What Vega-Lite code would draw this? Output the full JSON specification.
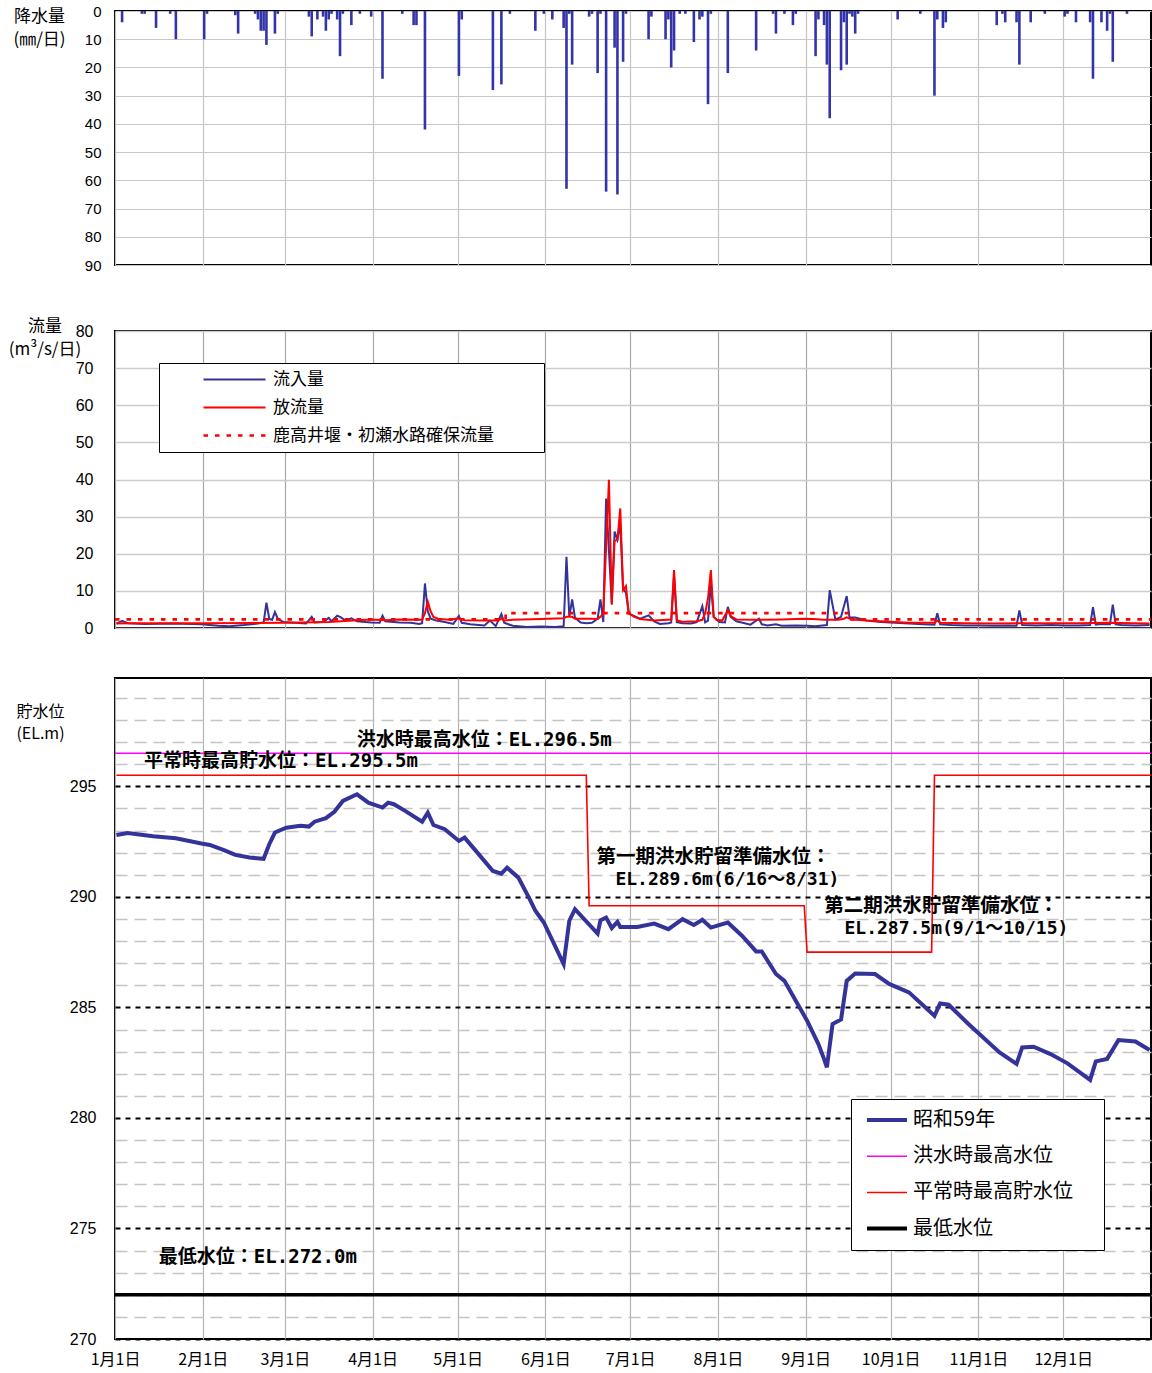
{
  "$schema": "https://vega.github.io/schema/vega-lite/v6.json",
  "background": "white",
  "autosize": {"type": "pad"},
  "padding": {"left": 7, "top": 3, "right": 1, "bottom": 2},
  "config": {
    "view": {"stroke": "black", "strokeWidth": 2},
    "font": "Noto Sans CJK JP",
    "axis": {"labelColor": "black", "titleColor": "black", "domain": false, "ticks": false, "labelFont": "Liberation Sans", "labelOverlap": false}
  },
  "datasets": {
    "rain": [
      {"d":"1984-01-03","v":4},{"d":"1984-01-10","v":1},{"d":"1984-01-11","v":1},{"d":"1984-01-15","v":6},{"d":"1984-01-20","v":1},{"d":"1984-01-22","v":10},
      {"d":"1984-02-01","v":10},{"d":"1984-02-02","v":1},{"d":"1984-02-12","v":1.5},{"d":"1984-02-13","v":8},{"d":"1984-02-19","v":1},{"d":"1984-02-20","v":3},{"d":"1984-02-21","v":7},{"d":"1984-02-22","v":7},{"d":"1984-02-23","v":12},{"d":"1984-02-26","v":8},{"d":"1984-02-27","v":1},
      {"d":"1984-03-09","v":2},{"d":"1984-03-10","v":9},{"d":"1984-03-12","v":3},{"d":"1984-03-14","v":2},{"d":"1984-03-15","v":7},{"d":"1984-03-16","v":3},{"d":"1984-03-17","v":1},{"d":"1984-03-19","v":3},{"d":"1984-03-20","v":16},{"d":"1984-03-21","v":1},{"d":"1984-03-24","v":5},{"d":"1984-03-27","v":1},{"d":"1984-03-31","v":2},
      {"d":"1984-04-04","v":24},{"d":"1984-04-11","v":1},{"d":"1984-04-15","v":5},{"d":"1984-04-16","v":5},{"d":"1984-04-19","v":42},
      {"d":"1984-05-01","v":23},{"d":"1984-05-02","v":3},{"d":"1984-05-13","v":28},{"d":"1984-05-16","v":26},{"d":"1984-05-19","v":1},{"d":"1984-05-28","v":7},{"d":"1984-05-31","v":1},
      {"d":"1984-06-03","v":3},{"d":"1984-06-07","v":6},{"d":"1984-06-08","v":63},{"d":"1984-06-09","v":1},{"d":"1984-06-10","v":19},{"d":"1984-06-16","v":2},{"d":"1984-06-17","v":1},{"d":"1984-06-19","v":22},{"d":"1984-06-20","v":1},{"d":"1984-06-22","v":64},{"d":"1984-06-25","v":13},{"d":"1984-06-26","v":65},{"d":"1984-06-28","v":18},{"d":"1984-06-29","v":1},
      {"d":"1984-07-07","v":10},{"d":"1984-07-08","v":2},{"d":"1984-07-13","v":10},{"d":"1984-07-14","v":3},{"d":"1984-07-15","v":20},{"d":"1984-07-16","v":14},{"d":"1984-07-18","v":1},{"d":"1984-07-20","v":1},{"d":"1984-07-23","v":11},{"d":"1984-07-25","v":3},{"d":"1984-07-26","v":2},{"d":"1984-07-28","v":33},{"d":"1984-07-29","v":1},
      {"d":"1984-08-04","v":22},{"d":"1984-08-14","v":14},{"d":"1984-08-20","v":1},{"d":"1984-08-21","v":8},{"d":"1984-08-24","v":1},{"d":"1984-08-27","v":5},{"d":"1984-08-28","v":1},
      {"d":"1984-09-04","v":16},{"d":"1984-09-05","v":3},{"d":"1984-09-07","v":5},{"d":"1984-09-08","v":19},{"d":"1984-09-09","v":38},{"d":"1984-09-13","v":21},{"d":"1984-09-14","v":4},{"d":"1984-09-15","v":19},{"d":"1984-09-16","v":1},{"d":"1984-09-17","v":2},{"d":"1984-09-18","v":8},{"d":"1984-09-19","v":1},
      {"d":"1984-10-03","v":3},{"d":"1984-10-11","v":1},{"d":"1984-10-16","v":30},{"d":"1984-10-17","v":3},{"d":"1984-10-19","v":6},{"d":"1984-10-20","v":4},
      {"d":"1984-11-07","v":5},{"d":"1984-11-09","v":1},{"d":"1984-11-10","v":4},{"d":"1984-11-14","v":4},{"d":"1984-11-15","v":19},{"d":"1984-11-19","v":4},{"d":"1984-11-24","v":1},
      {"d":"1984-12-01","v":2},{"d":"1984-12-02","v":1},{"d":"1984-12-05","v":4},{"d":"1984-12-10","v":4},{"d":"1984-12-11","v":24},{"d":"1984-12-14","v":4},{"d":"1984-12-16","v":7},{"d":"1984-12-17","v":1},{"d":"1984-12-18","v":18},{"d":"1984-12-23","v":1}
    ],
    "inflow": [
      {"d":"1984-01-01","v":1.2},{"d":"1984-01-03","v":1.9},{"d":"1984-01-05","v":1.3},{"d":"1984-01-11","v":1.1},{"d":"1984-01-21","v":1.2},{"d":"1984-01-31","v":1.0},
      {"d":"1984-02-06","v":0.6},{"d":"1984-02-10","v":0.5},{"d":"1984-02-15","v":0.8},{"d":"1984-02-20","v":1.2},{"d":"1984-02-22","v":1.5},{"d":"1984-02-23","v":6.8},{"d":"1984-02-24","v":2.5},{"d":"1984-02-25","v":2.2},{"d":"1984-02-26","v":4.3},{"d":"1984-02-27","v":2.5},{"d":"1984-02-29","v":1.6},
      {"d":"1984-03-04","v":1.4},{"d":"1984-03-08","v":1.2},{"d":"1984-03-10","v":3.0},{"d":"1984-03-11","v":1.5},{"d":"1984-03-14","v":1.6},{"d":"1984-03-16","v":2.7},{"d":"1984-03-17","v":1.8},{"d":"1984-03-19","v":3.3},{"d":"1984-03-20","v":3.0},{"d":"1984-03-22","v":2.0},{"d":"1984-03-24","v":2.6},{"d":"1984-03-26","v":1.8},{"d":"1984-03-31","v":1.5},
      {"d":"1984-04-03","v":1.4},{"d":"1984-04-04","v":3.3},{"d":"1984-04-05","v":1.8},{"d":"1984-04-10","v":1.5},{"d":"1984-04-14","v":1.4},{"d":"1984-04-17","v":1.1},{"d":"1984-04-18","v":1.3},{"d":"1984-04-19","v":12.0},{"d":"1984-04-20","v":4.5},{"d":"1984-04-21","v":2.5},{"d":"1984-04-23","v":2.0},{"d":"1984-04-26","v":1.6},{"d":"1984-04-29","v":1.1},
      {"d":"1984-05-01","v":3.2},{"d":"1984-05-02","v":1.4},{"d":"1984-05-05","v":1.0},{"d":"1984-05-10","v":0.7},{"d":"1984-05-12","v":2.0},{"d":"1984-05-14","v":0.5},{"d":"1984-05-16","v":3.8},{"d":"1984-05-17","v":1.4},{"d":"1984-05-20","v":0.6},{"d":"1984-05-25","v":0.3},{"d":"1984-05-30","v":0.4},
      {"d":"1984-06-04","v":0.3},{"d":"1984-06-07","v":0.5},{"d":"1984-06-08","v":19.2},{"d":"1984-06-09","v":3.0},{"d":"1984-06-10","v":7.7},{"d":"1984-06-11","v":2.8},{"d":"1984-06-13","v":1.5},{"d":"1984-06-15","v":1.3},{"d":"1984-06-17","v":1.4},{"d":"1984-06-19","v":2.5},{"d":"1984-06-20","v":7.7},{"d":"1984-06-21","v":1.6},{"d":"1984-06-22","v":34.9},{"d":"1984-06-24","v":6.6},{"d":"1984-06-25","v":26.0},{"d":"1984-06-26","v":23.8},{"d":"1984-06-27","v":28.0},{"d":"1984-06-28","v":10.5},{"d":"1984-06-29","v":9.5},{"d":"1984-06-30","v":4.0},
      {"d":"1984-07-01","v":3.5},{"d":"1984-07-04","v":2.5},{"d":"1984-07-07","v":3.4},{"d":"1984-07-09","v":1.8},{"d":"1984-07-11","v":1.1},{"d":"1984-07-14","v":1.3},{"d":"1984-07-15","v":1.5},{"d":"1984-07-16","v":14.0},{"d":"1984-07-17","v":1.6},{"d":"1984-07-19","v":1.3},{"d":"1984-07-22","v":1.2},{"d":"1984-07-24","v":1.6},{"d":"1984-07-26","v":5.9},{"d":"1984-07-27","v":1.5},{"d":"1984-07-28","v":2.0},{"d":"1984-07-29","v":12.0},{"d":"1984-07-30","v":3.0},
      {"d":"1984-08-01","v":1.6},{"d":"1984-08-03","v":1.5},{"d":"1984-08-04","v":5.7},{"d":"1984-08-05","v":3.0},{"d":"1984-08-07","v":1.8},{"d":"1984-08-10","v":1.3},{"d":"1984-08-12","v":0.9},{"d":"1984-08-15","v":2.5},{"d":"1984-08-16","v":1.0},{"d":"1984-08-18","v":0.7},{"d":"1984-08-21","v":1.0},{"d":"1984-08-23","v":0.6},{"d":"1984-08-28","v":0.7},
      {"d":"1984-09-01","v":0.6},{"d":"1984-09-04","v":0.5},{"d":"1984-09-08","v":0.8},{"d":"1984-09-09","v":10.2},{"d":"1984-09-11","v":2.3},{"d":"1984-09-13","v":3.0},{"d":"1984-09-15","v":8.6},{"d":"1984-09-16","v":2.8},{"d":"1984-09-18","v":2.8},{"d":"1984-09-22","v":2.0},{"d":"1984-09-27","v":1.6},
      {"d":"1984-10-02","v":1.4},{"d":"1984-10-07","v":1.2},{"d":"1984-10-12","v":1.0},{"d":"1984-10-16","v":0.9},{"d":"1984-10-17","v":4.0},{"d":"1984-10-18","v":1.0},{"d":"1984-10-22","v":0.8},{"d":"1984-10-27","v":0.7},
      {"d":"1984-11-01","v":0.7},{"d":"1984-11-06","v":0.6},{"d":"1984-11-11","v":0.7},{"d":"1984-11-14","v":0.6},{"d":"1984-11-15","v":4.7},{"d":"1984-11-16","v":0.8},{"d":"1984-11-21","v":0.7},{"d":"1984-11-26","v":0.8},
      {"d":"1984-12-01","v":0.7},{"d":"1984-12-06","v":0.7},{"d":"1984-12-10","v":0.8},{"d":"1984-12-11","v":5.6},{"d":"1984-12-12","v":0.9},{"d":"1984-12-14","v":1.1},{"d":"1984-12-17","v":1.0},{"d":"1984-12-18","v":6.3},{"d":"1984-12-19","v":1.0},{"d":"1984-12-21","v":0.8},{"d":"1984-12-26","v":0.7},{"d":"1984-12-31","v":0.8}
    ],
    "outflow": [
      {"d":"1984-01-01","v":1.2},{"d":"1984-01-06","v":1.3},{"d":"1984-01-31","v":1.3},{"d":"1984-03-01","v":1.4},{"d":"1984-03-16","v":1.6},{"d":"1984-03-26","v":2.1},{"d":"1984-03-31","v":2.3},
      {"d":"1984-04-05","v":2.1},{"d":"1984-04-10","v":2.3},{"d":"1984-04-18","v":2.2},{"d":"1984-04-19","v":4.0},{"d":"1984-04-20","v":7.1},{"d":"1984-04-21","v":4.5},{"d":"1984-04-22","v":3.0},{"d":"1984-04-24","v":2.4},{"d":"1984-04-28","v":2.2},
      {"d":"1984-05-01","v":2.6},{"d":"1984-05-03","v":2.1},{"d":"1984-05-10","v":2.0},{"d":"1984-05-15","v":2.0},{"d":"1984-05-16","v":2.6},{"d":"1984-05-17","v":2.0},{"d":"1984-05-20","v":2.2},{"d":"1984-05-30","v":2.4},
      {"d":"1984-06-07","v":2.6},{"d":"1984-06-08","v":3.0},{"d":"1984-06-10","v":3.0},{"d":"1984-06-11","v":2.5},{"d":"1984-06-17","v":2.5},{"d":"1984-06-19","v":2.4},{"d":"1984-06-20","v":3.0},{"d":"1984-06-21","v":4.0},{"d":"1984-06-23","v":39.9},{"d":"1984-06-24","v":6.3},{"d":"1984-06-25","v":23.5},{"d":"1984-06-26","v":23.7},{"d":"1984-06-27","v":32.2},{"d":"1984-06-28","v":10.2},{"d":"1984-06-29","v":11.3},{"d":"1984-06-30","v":4.0},
      {"d":"1984-07-02","v":3.0},{"d":"1984-07-04","v":2.4},{"d":"1984-07-09","v":2.0},{"d":"1984-07-15","v":2.3},{"d":"1984-07-16","v":15.6},{"d":"1984-07-17","v":2.0},{"d":"1984-07-19","v":1.7},{"d":"1984-07-24","v":1.8},{"d":"1984-07-26","v":2.2},{"d":"1984-07-27","v":4.0},{"d":"1984-07-28","v":8.0},{"d":"1984-07-29","v":15.6},{"d":"1984-07-30","v":3.0},{"d":"1984-07-31","v":2.2},
      {"d":"1984-08-02","v":2.0},{"d":"1984-08-04","v":4.8},{"d":"1984-08-05","v":3.2},{"d":"1984-08-07","v":2.3},{"d":"1984-08-13","v":2.2},{"d":"1984-08-23","v":2.3},{"d":"1984-08-31","v":2.5},
      {"d":"1984-09-03","v":2.4},{"d":"1984-09-07","v":2.2},{"d":"1984-09-12","v":2.2},{"d":"1984-09-14","v":2.5},{"d":"1984-09-15","v":2.9},{"d":"1984-09-17","v":2.3},{"d":"1984-09-22","v":2.0},{"d":"1984-09-27","v":1.8},
      {"d":"1984-10-07","v":1.4},{"d":"1984-10-16","v":1.4},{"d":"1984-10-17","v":2.0},{"d":"1984-10-18","v":1.4},{"d":"1984-10-27","v":1.3},{"d":"1984-11-06","v":1.2},{"d":"1984-11-16","v":1.3},{"d":"1984-11-26","v":1.3},{"d":"1984-12-06","v":1.3},{"d":"1984-12-16","v":1.4},{"d":"1984-12-31","v":1.2}
    ],
    "secured": [
      {"d":"1984-01-01","v":2.3},{"d":"1984-05-18","v":4.0},{"d":"1984-09-16","v":2.3},{"d":"1985-01-01","v":2.3}
    ],
    "level": [
      {"d":"1984-01-01","v":292.80},{"d":"1984-01-05","v":292.89},{"d":"1984-01-14","v":292.74},{"d":"1984-01-22","v":292.65},{"d":"1984-01-31","v":292.41},
      {"d":"1984-02-03","v":292.35},{"d":"1984-02-08","v":292.11},{"d":"1984-02-12","v":291.90},{"d":"1984-02-17","v":291.78},{"d":"1984-02-22","v":291.72},{"d":"1984-02-24","v":292.38},{"d":"1984-02-26","v":292.91},
      {"d":"1984-03-01","v":293.13},{"d":"1984-03-06","v":293.22},{"d":"1984-03-09","v":293.18},{"d":"1984-03-11","v":293.40},{"d":"1984-03-15","v":293.56},{"d":"1984-03-18","v":293.85},{"d":"1984-03-21","v":294.34},{"d":"1984-03-26","v":294.64},{"d":"1984-03-30","v":294.26},
      {"d":"1984-04-04","v":294.04},{"d":"1984-04-06","v":294.26},{"d":"1984-04-08","v":294.19},{"d":"1984-04-12","v":293.89},{"d":"1984-04-18","v":293.40},{"d":"1984-04-20","v":293.81},{"d":"1984-04-22","v":293.25},{"d":"1984-04-26","v":293.06},
      {"d":"1984-05-01","v":292.53},{"d":"1984-05-03","v":292.68},{"d":"1984-05-07","v":292.08},{"d":"1984-05-13","v":291.17},{"d":"1984-05-16","v":291.05},{"d":"1984-05-18","v":291.32},{"d":"1984-05-22","v":290.87},{"d":"1984-05-26","v":289.90},{"d":"1984-05-28","v":289.37},{"d":"1984-05-31","v":288.84},
      {"d":"1984-06-07","v":286.96},{"d":"1984-06-09","v":288.92},{"d":"1984-06-11","v":289.44},{"d":"1984-06-19","v":288.34},{"d":"1984-06-20","v":288.94},{"d":"1984-06-22","v":289.06},{"d":"1984-06-24","v":288.59},{"d":"1984-06-26","v":288.87},{"d":"1984-06-27","v":288.64},
      {"d":"1984-07-03","v":288.64},{"d":"1984-07-09","v":288.79},{"d":"1984-07-14","v":288.54},{"d":"1984-07-19","v":288.99},{"d":"1984-07-23","v":288.73},{"d":"1984-07-26","v":288.96},{"d":"1984-07-29","v":288.61},
      {"d":"1984-08-04","v":288.84},{"d":"1984-08-09","v":288.24},{"d":"1984-08-14","v":287.53},{"d":"1984-08-16","v":287.53},{"d":"1984-08-21","v":286.51},{"d":"1984-08-24","v":286.20},{"d":"1984-08-28","v":285.30},
      {"d":"1984-09-01","v":284.40},{"d":"1984-09-05","v":283.34},{"d":"1984-09-07","v":282.66},{"d":"1984-09-08","v":282.29},{"d":"1984-09-10","v":284.25},{"d":"1984-09-13","v":284.45},{"d":"1984-09-15","v":286.20},{"d":"1984-09-18","v":286.53},{"d":"1984-09-25","v":286.51},{"d":"1984-09-30","v":286.06},
      {"d":"1984-10-07","v":285.68},{"d":"1984-10-16","v":284.62},{"d":"1984-10-18","v":285.18},{"d":"1984-10-21","v":285.12},{"d":"1984-10-28","v":284.25},
      {"d":"1984-11-08","v":282.96},{"d":"1984-11-14","v":282.44},{"d":"1984-11-16","v":283.19},{"d":"1984-11-20","v":283.22},{"d":"1984-11-26","v":282.89},
      {"d":"1984-12-02","v":282.47},{"d":"1984-12-10","v":281.72},{"d":"1984-12-12","v":282.56},{"d":"1984-12-16","v":282.67},{"d":"1984-12-20","v":283.52},{"d":"1984-12-26","v":283.46},{"d":"1984-12-31","v":283.07}
    ],
    "flood": [
      {"d":"1984-01-01","v":295.5},{"d":"1984-06-15","v":295.5},{"d":"1984-06-16","v":289.6},{"d":"1984-08-31","v":289.6},{"d":"1984-09-01","v":287.5},{"d":"1984-10-15","v":287.5},{"d":"1984-10-16","v":295.5},{"d":"1985-01-01","v":295.5}
    ]
  },
  "bounds": "flush",
  "spacing": 66,
  "resolve": {"scale": {"x": "independent", "y": "independent", "color": "independent"}},
  "vconcat": [
    {
      "width": 1036,
      "height": 254,
      "data": {"name": "rain", "format": {"parse": {"d": "date:'%Y-%m-%d'"}}},
      "mark": {"type": "rule", "color": "#3333AA", "strokeWidth": 2.6},
      "encoding": {
        "x": {"field": "d", "type": "temporal", "timeUnit": "yearmonthdate", "bandPosition": 0.5,
          "scale": {"domain": [{"year":1984,"month":1,"date":1},{"year":1985,"month":1,"date":1}], "nice": false},
          "axis": {"values": [{"year":1984,"month":1,"date":1},{"year":1984,"month":2,"date":1},{"year":1984,"month":3,"date":1},{"year":1984,"month":4,"date":1},{"year":1984,"month":5,"date":1},{"year":1984,"month":6,"date":1},{"year":1984,"month":7,"date":1},{"year":1984,"month":8,"date":1},{"year":1984,"month":9,"date":1},{"year":1984,"month":10,"date":1},{"year":1984,"month":11,"date":1},{"year":1984,"month":12,"date":1}],
            "tickCount": 12, "labels": false, "title": null, "grid": true, "gridColor": "#c4c4c4", "gridWidth": 1.2}},
        "y": {"field": "v", "type": "quantitative",
          "scale": {"domain": [0, 90], "reverse": true, "nice": false},
          "axis": {"values": [0,10,20,30,40,50,60,70,80,90], "tickCount": 10, "grid": true, "gridColor": "#c8c8c8", "gridWidth": 1.2,
            "labelFontSize": 15, "labelPadding": 14,
            "title": ["降水量", "(㎜/日)"], "titleAngle": 0, "titleAlign": "center", "titleBaseline": "top",
            "titleX": -76, "titleY": -2.5, "titleFontSize": 17, "titleFontWeight": "normal", "titleFont": "Noto Sans CJK JP", "titleLineHeight": 23}},
        "y2": {"datum": 0}
      }
    },
    {
      "bounds": "flush",
      "spacing": 50,
      "resolve": {"scale": {"x": "independent", "y": "independent", "color": "independent"}},
      "vconcat": [
        {
          "width": 1036,
          "height": 297,
          "layer": [
            {
              "data": {"name": "inflow", "format": {"parse": {"d": "date:'%Y-%m-%d'"}}},
              "mark": {"type": "line", "strokeWidth": 2},
              "encoding": {
                "x": {"field": "d", "type": "temporal", "timeUnit": "yearmonthdate", "bandPosition": 0.5,
                  "scale": {"domain": [{"year":1984,"month":1,"date":1},{"year":1985,"month":1,"date":1}], "nice": false},
                  "axis": {"values": [{"year":1984,"month":1,"date":1},{"year":1984,"month":2,"date":1},{"year":1984,"month":3,"date":1},{"year":1984,"month":4,"date":1},{"year":1984,"month":5,"date":1},{"year":1984,"month":6,"date":1},{"year":1984,"month":7,"date":1},{"year":1984,"month":8,"date":1},{"year":1984,"month":9,"date":1},{"year":1984,"month":10,"date":1},{"year":1984,"month":11,"date":1},{"year":1984,"month":12,"date":1}],
                    "tickCount": 12, "labels": false, "title": null, "grid": true, "gridColor": "#a8a8a8", "gridWidth": 1.2}},
                "y": {"field": "v", "type": "quantitative",
                  "scale": {"domain": [0, 80], "nice": false, "zero": false},
                  "axis": {"values": [0,10,20,30,40,50,60,70,80], "tickCount": 10, "labelOverlap": false,
                    "grid": true, "gridColor": "#cccccc", "gridWidth": 1.5,
                    "labelFontSize": 16, "labelPadding": 22,
                    "title": ["流量", "(m³/s/日)"], "titleAngle": 0, "titleAlign": "center", "titleBaseline": "top",
                    "titleX": -70.5, "titleY": -12.5, "titleFontSize": 17, "titleFontWeight": "normal", "titleFont": "Noto Sans CJK JP", "titleLineHeight": 23}},
                "color": {"datum": "流入量", "type": "nominal",
                  "scale": {"domain": ["流入量", "放流量", "鹿高井堰・初瀬水路確保流量"], "range": ["#333399", "#FF0000", "#FF0000"]},
                  "legend": {"title": null, "orient": "none", "legendX": 44, "legendY": 32, "direction": "vertical",
                    "fillColor": "white", "strokeColor": "black", "padding": 8,
                    "symbolType": "M-3.1,0H3.1", "symbolSize": 400, "symbolOffset": 59, "labelOffset": 30,
                    "labelFontSize": 17, "labelFont": "Noto Sans CJK JP", "labelColor": "black", "labelLimit": 600,
                    "rowPadding": 10, "labelExpr": "datum.label + '　　  \u200b'",
                    "encode": {"symbols": {"update": {
                      "strokeDash": {"signal": "datum.value === '鹿高井堰・初瀬水路確保流量' ? [4.5, 7] : [1, 0]"},
                      "strokeWidth": {"signal": "datum.value === '鹿高井堰・初瀬水路確保流量' ? 2.7 : 2"}}}}}}
              }
            },
            {
              "data": {"name": "secured", "format": {"parse": {"d": "date:'%Y-%m-%d'"}}},
              "mark": {"type": "line", "interpolate": "step-after", "strokeDash": [4.5, 7], "strokeWidth": 2.7},
              "encoding": {
                "x": {"field": "d", "type": "temporal"},
                "y": {"field": "v", "type": "quantitative"},
                "color": {"datum": "鹿高井堰・初瀬水路確保流量", "type": "nominal"}
              }
            },
            {
              "data": {"name": "outflow", "format": {"parse": {"d": "date:'%Y-%m-%d'"}}},
              "mark": {"type": "line", "strokeWidth": 2},
              "encoding": {
                "x": {"field": "d", "type": "temporal", "timeUnit": "yearmonthdate", "bandPosition": 0.5},
                "y": {"field": "v", "type": "quantitative"},
                "color": {"datum": "放流量", "type": "nominal"}
              }
            }
          ]
        },
        {
          "width": 1036,
          "height": 661,
          "layer": [
            {
              "data": {"name": "flood", "format": {"parse": {"d": "date:'%Y-%m-%d'"}}},
              "mark": {"type": "line", "strokeWidth": 1.6, "clip": true},
              "encoding": {
                "x": {"field": "d", "type": "temporal", "timeUnit": "yearmonthdate", "bandPosition": 0.5,
                  "scale": {"domain": [{"year":1984,"month":1,"date":1},{"year":1985,"month":1,"date":1}], "nice": false},
                  "axis": {"values": [{"year":1984,"month":1,"date":1},{"year":1984,"month":2,"date":1},{"year":1984,"month":3,"date":1},{"year":1984,"month":4,"date":1},{"year":1984,"month":5,"date":1},{"year":1984,"month":6,"date":1},{"year":1984,"month":7,"date":1},{"year":1984,"month":8,"date":1},{"year":1984,"month":9,"date":1},{"year":1984,"month":10,"date":1},{"year":1984,"month":11,"date":1},{"year":1984,"month":12,"date":1}],
                    "tickCount": 12, "format": "%-m月%-d日", "labelFont": "Noto Sans CJK JP", "labelFontSize": 16, "labelPadding": 12, "labelOverlap": false, "labelFlush": false, "labelBound": false,
                    "title": null, "grid": true, "gridColor": "#b4b4b4", "gridWidth": 1.2}},
                "y": {"field": "v", "type": "quantitative",
                  "scale": {"domain": [270, 299.9], "nice": false, "zero": false},
                  "axis": {"values": [270,271,272,273,274,275,276,277,278,279,280,281,282,283,284,285,286,287,288,289,290,291,292,293,294,295,296,297,298,299],
                    "tickCount": 30, "labelOverlap": false,
                    "labelExpr": "datum.value % 5 === 0 ? datum.label : ''",
                    "grid": true,
                    "gridColor": {"condition": {"test": "datum.value % 5 === 0", "value": "#000000"}, "value": "#c4c4c4"},
                    "gridDash": {"condition": {"test": "datum.value % 5 === 0", "value": [5, 5]}, "value": [12, 7]},
                    "gridWidth": {"condition": {"test": "datum.value % 5 === 0", "value": 2}, "value": 1.3},
                    "labelFontSize": 16, "labelPadding": 19,
                    "title": ["貯水位", "(EL.m)"], "titleAngle": 0, "titleAlign": "center", "titleBaseline": "top",
                    "titleX": -75, "titleY": 25.5, "titleFontSize": 16, "titleFontWeight": "normal", "titleFont": "Noto Sans CJK JP", "titleLineHeight": 22}},
                "color": {"datum": "平常時最高貯水位", "type": "nominal",
                  "scale": {"domain": ["昭和59年", "洪水時最高水位", "平常時最高貯水位", "最低水位"], "range": ["#333399", "#FF00FF", "#FF0000", "#000000"]},
                  "legend": {"title": null, "orient": "none", "legendX": 736, "legendY": 421, "direction": "vertical",
                    "fillColor": "white", "strokeColor": "black", "padding": 11,
                    "symbolType": "M-2,0H2", "symbolSize": 400, "symbolOffset": 15, "labelOffset": 16,
                    "labelFontSize": 20, "labelFont": "Noto Sans CJK JP", "labelColor": "black", "labelLimit": 600,
                    "rowPadding": 16.2, "labelExpr": "datum.label + '　\u200b'",
                    "encode": {"symbols": {"update": {
                      "strokeWidth": {"signal": "datum.value === '昭和59年' || datum.value === '最低水位' ? 4 : 1.5"}}}}}}
              }
            },
            {
              "data": {"values": [{}]},
              "mark": {"type": "rule", "strokeWidth": 1.5},
              "encoding": {
                "y": {"datum": 296.5, "type": "quantitative"},
                "color": {"datum": "洪水時最高水位", "type": "nominal"}
              }
            },
            {
              "data": {"values": [{}]},
              "mark": {"type": "rule", "strokeWidth": 3.5},
              "encoding": {
                "y": {"datum": 272.0, "type": "quantitative"},
                "color": {"datum": "最低水位", "type": "nominal"}
              }
            },
            {
              "data": {"name": "level", "format": {"parse": {"d": "date:'%Y-%m-%d'"}}},
              "mark": {"type": "line", "strokeWidth": 4},
              "encoding": {
                "x": {"field": "d", "type": "temporal", "timeUnit": "yearmonthdate", "bandPosition": 0.5},
                "y": {"field": "v", "type": "quantitative"},
                "color": {"datum": "昭和59年", "type": "nominal"}
              }
            },
            {
              "data": {"values": [{}]},
              "mark": {"type": "text", "align": "left", "baseline": "middle", "font": "DejaVu Sans Mono, Noto Sans CJK JP", "fontSize": 19, "fontWeight": "bold", "color": "black"},
              "encoding": {
                "x": {"datum": {"year":1984,"month":3,"date":26,"hours":10}, "type": "temporal"},
                "y": {"datum": 297.09, "type": "quantitative"},
                "text": {"value": "洪水時最高水位：EL.296.5m"}
              }
            },
            {
              "data": {"values": [{}]},
              "mark": {"type": "text", "align": "left", "baseline": "middle", "font": "DejaVu Sans Mono, Noto Sans CJK JP", "fontSize": 19, "fontWeight": "bold", "color": "black"},
              "encoding": {
                "x": {"datum": {"year":1984,"month":1,"date":11,"hours":6}, "type": "temporal"},
                "y": {"datum": 296.15, "type": "quantitative"},
                "text": {"value": "平常時最高貯水位：EL.295.5m"}
              }
            },
            {
              "data": {"values": [{}]},
              "mark": {"type": "text", "align": "left", "baseline": "middle", "font": "DejaVu Sans Mono, Noto Sans CJK JP", "fontSize": 19.5, "fontWeight": "bold", "color": "black"},
              "encoding": {
                "x": {"datum": {"year":1984,"month":6,"date":19,"hours":2}, "type": "temporal"},
                "y": {"datum": 291.81, "type": "quantitative"},
                "text": {"value": "第一期洪水貯留準備水位："}
              }
            },
            {
              "data": {"values": [{}]},
              "mark": {"type": "text", "align": "left", "baseline": "middle", "font": "DejaVu Sans Mono, Noto Sans CJK JP", "fontSize": 18, "fontWeight": "bold", "color": "black"},
              "encoding": {
                "x": {"datum": {"year":1984,"month":6,"date":25,"hours":19}, "type": "temporal"},
                "y": {"datum": 290.77, "type": "quantitative"},
                "text": {"value": "EL.289.6m(6/16～8/31)"}
              }
            },
            {
              "data": {"values": [{}]},
              "mark": {"type": "text", "align": "left", "baseline": "middle", "font": "DejaVu Sans Mono, Noto Sans CJK JP", "fontSize": 19.5, "fontWeight": "bold", "color": "black"},
              "encoding": {
                "x": {"datum": {"year":1984,"month":9,"date":7,"hours":14}, "type": "temporal"},
                "y": {"datum": 289.59, "type": "quantitative"},
                "text": {"value": "第二期洪水貯留準備水位："}
              }
            },
            {
              "data": {"values": [{}]},
              "mark": {"type": "text", "align": "left", "baseline": "middle", "font": "DejaVu Sans Mono, Noto Sans CJK JP", "fontSize": 18, "fontWeight": "bold", "color": "black"},
              "encoding": {
                "x": {"datum": {"year":1984,"month":9,"date":14,"hours":17}, "type": "temporal"},
                "y": {"datum": 288.55, "type": "quantitative"},
                "text": {"value": "EL.287.5m(9/1～10/15)"}
              }
            },
            {
              "data": {"values": [{}]},
              "mark": {"type": "text", "align": "left", "baseline": "middle", "font": "DejaVu Sans Mono, Noto Sans CJK JP", "fontSize": 19, "fontWeight": "bold", "color": "black"},
              "encoding": {
                "x": {"datum": {"year":1984,"month":1,"date":16,"hours":12}, "type": "temporal"},
                "y": {"datum": 273.73, "type": "quantitative"},
                "text": {"value": "最低水位：EL.272.0m"}
              }
            }
          ]
        }
      ]
    }
  ]
}
